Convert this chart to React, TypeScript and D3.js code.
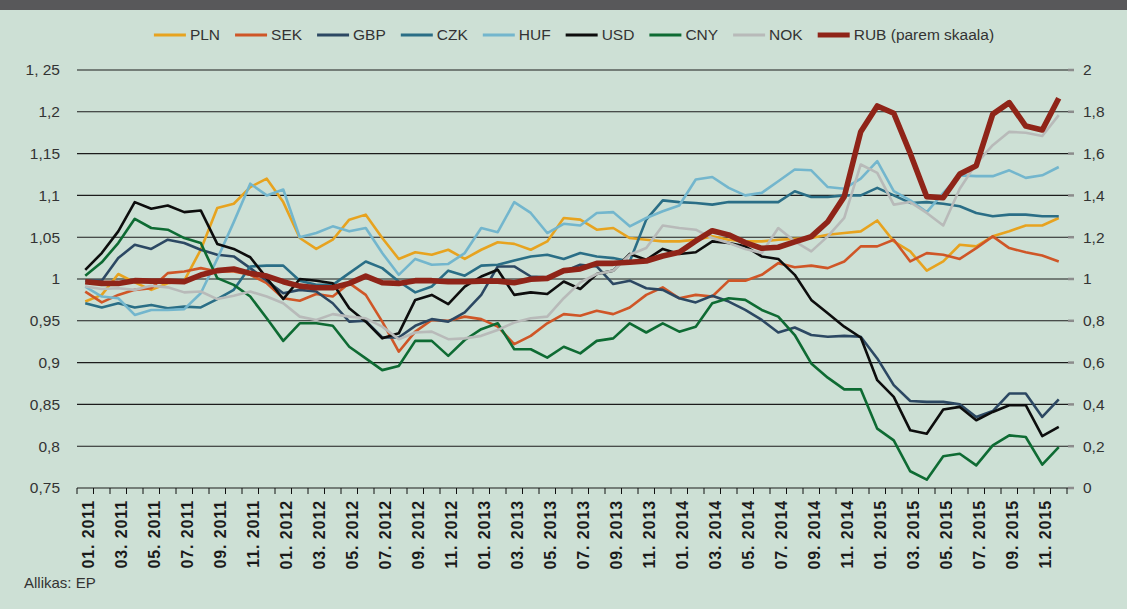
import React from "react";
import * as d3 from "d3";

// ---------- data ----------
const years = [2011, 2012, 2013, 2014, 2015];
const monthNums = ["01", "02", "03", "04", "05", "06", "07", "08", "09", "10", "11", "12"];
const months: string[] = years.flatMap((y) => monthNums.map((m) => `${m}. ${y}`));

const leftTickValues = [0.75, 0.8, 0.85, 0.9, 0.95, 1, 1.05, 1.1, 1.15, 1.2, 1.25];
const leftTickLabels = ["0,75", "0,8", "0,85", "0,9", "0,95", "1", "1,05", "1,1", "1,15", "1,2", "1, 25"];
const rightTickValues = [0, 0.2, 0.4, 0.6, 0.8, 1, 1.2, 1.4, 1.6, 1.8, 2];
const rightTickLabels = ["0", "0,2", "0,4", "0,6", "0,8", "1", "1,2", "1,4", "1,6", "1,8", "2"];

const PLN = [0.973, 0.981, 1.006, 0.996, 0.987, 0.995, 0.998, 1.035, 1.085, 1.09, 1.11, 1.12, 1.092, 1.049, 1.036, 1.047, 1.071, 1.077, 1.049, 1.024, 1.032, 1.029, 1.035, 1.024, 1.035, 1.044, 1.042, 1.035, 1.045, 1.073, 1.071, 1.059, 1.061, 1.049, 1.047, 1.045, 1.045, 1.047, 1.051, 1.047, 1.045, 1.045, 1.047, 1.048, 1.049, 1.053, 1.055, 1.057, 1.07, 1.045, 1.033, 1.01, 1.021, 1.041, 1.039, 1.051, 1.057, 1.064, 1.064, 1.073];
const SEK = [0.985, 0.972, 0.981, 0.987, 0.989, 1.007, 1.009, 1.013, 1.009, 1.009, 1.005, 0.995, 0.977, 0.974, 0.982, 0.979, 0.995, 0.981, 0.949, 0.913, 0.937, 0.951, 0.95, 0.955, 0.952, 0.943, 0.922, 0.932, 0.947, 0.958, 0.956, 0.962, 0.958, 0.966, 0.981, 0.99, 0.977, 0.981, 0.979, 0.998, 0.998, 1.005, 1.019, 1.014, 1.016, 1.013, 1.021, 1.039, 1.039, 1.047, 1.021, 1.031, 1.029, 1.024, 1.037, 1.051, 1.037, 1.032, 1.028, 1.021];
const GBP = [0.998, 0.998, 1.025, 1.041, 1.036, 1.047, 1.043, 1.035, 1.029, 1.027, 1.013, 0.998, 0.983, 0.987, 0.985, 0.971, 0.949, 0.95, 0.93, 0.93, 0.944, 0.952, 0.949, 0.96, 0.981, 1.015, 1.015, 1.003, 1.002, 1.009, 1.017, 1.015, 0.994, 0.998, 0.989, 0.987, 0.977, 0.972, 0.98, 0.973, 0.963, 0.951, 0.936, 0.942, 0.933, 0.931, 0.932, 0.931, 0.905, 0.873, 0.854, 0.853, 0.853, 0.85, 0.835, 0.842, 0.863, 0.863, 0.835, 0.856];
const CZK = [0.971, 0.966, 0.971, 0.966, 0.969, 0.965, 0.967, 0.966, 0.976, 0.987, 1.015, 1.016, 1.016, 0.998, 0.993, 0.993, 1.007, 1.021, 1.013, 0.997, 0.984, 0.991, 1.01, 1.004, 1.016, 1.017, 1.022, 1.027, 1.029, 1.024, 1.031, 1.027, 1.025, 1.021, 1.071, 1.094, 1.092, 1.091, 1.089, 1.092, 1.092, 1.092, 1.092, 1.105, 1.098, 1.098, 1.1, 1.1, 1.109, 1.1, 1.091, 1.092, 1.09, 1.087, 1.079, 1.075, 1.077, 1.077, 1.075, 1.075];
const HUF = [0.991, 0.979, 0.977, 0.957, 0.963, 0.963, 0.964, 0.983, 1.024, 1.068, 1.114, 1.1, 1.107, 1.05, 1.055, 1.063, 1.057, 1.061, 1.031, 1.005, 1.024, 1.017, 1.018, 1.031, 1.061, 1.056, 1.092, 1.079, 1.055, 1.066, 1.064, 1.079, 1.08, 1.063, 1.073, 1.081, 1.088, 1.119, 1.122, 1.109, 1.1, 1.103, 1.117, 1.131, 1.13, 1.11, 1.108, 1.12, 1.141, 1.105, 1.094, 1.08, 1.103, 1.124, 1.123, 1.123, 1.13, 1.121, 1.124, 1.134];
const USD = [1.011, 1.031, 1.057, 1.092, 1.084, 1.088, 1.08, 1.082, 1.042, 1.036, 1.026, 1.001, 0.976, 1.0, 0.998, 0.995, 0.965, 0.949, 0.929, 0.935, 0.975, 0.981, 0.97, 0.991, 1.003, 1.011, 0.981, 0.984, 0.982, 0.997, 0.988, 1.006, 1.01, 1.03, 1.023, 1.036, 1.03, 1.032, 1.045, 1.043, 1.039, 1.027, 1.024, 1.005, 0.975, 0.959, 0.943, 0.93, 0.879, 0.859, 0.819, 0.815, 0.844, 0.847, 0.831, 0.841, 0.849, 0.849, 0.812, 0.823];
const CNY = [1.004, 1.02, 1.043, 1.072, 1.061, 1.059, 1.049, 1.043, 1.001, 0.993, 0.979, 0.953, 0.926, 0.947, 0.947, 0.944, 0.919, 0.905, 0.891, 0.896, 0.926, 0.926, 0.908, 0.927, 0.94, 0.947, 0.916, 0.916, 0.906, 0.919, 0.911, 0.926, 0.929, 0.947, 0.936, 0.947, 0.937, 0.943, 0.971, 0.977, 0.975, 0.963, 0.955, 0.933, 0.899, 0.882, 0.868, 0.868, 0.821, 0.807, 0.77, 0.76, 0.788, 0.791, 0.777, 0.801, 0.813, 0.811, 0.778, 0.799];
const NOK = [0.991, 0.988, 0.989, 0.987, 0.992, 0.99, 0.984, 0.985, 0.976, 0.98, 0.985, 0.979, 0.971, 0.955, 0.951, 0.958, 0.955, 0.953, 0.943, 0.928, 0.936, 0.937, 0.928, 0.929, 0.932, 0.939, 0.948, 0.953, 0.955, 0.977, 0.996, 1.006, 1.01, 1.029, 1.037, 1.064, 1.061, 1.059, 1.049, 1.043, 1.036, 1.031, 1.061, 1.045, 1.033, 1.051, 1.073, 1.137, 1.127, 1.089, 1.092, 1.079, 1.064, 1.108, 1.138, 1.16, 1.176, 1.175, 1.171, 1.196];
const RUB = [0.987, 0.979, 0.979, 0.992, 0.99, 0.99, 0.987, 1.019, 1.04, 1.048, 1.027, 1.014, 0.987, 0.966, 0.958, 0.958, 0.979, 1.014, 0.982, 0.979, 0.992, 0.992, 0.987, 0.987, 0.99, 0.99, 0.982, 0.999, 1.003, 1.04, 1.048, 1.075, 1.075, 1.08, 1.086, 1.11, 1.128, 1.182, 1.231, 1.211, 1.174, 1.147, 1.152, 1.178, 1.203, 1.274, 1.394, 1.705, 1.828, 1.793, 1.601, 1.394, 1.389, 1.502, 1.542, 1.789, 1.844, 1.732, 1.713, 1.865];

const seriesNames = ["PLN", "SEK", "GBP", "CZK", "HUF", "USD", "CNY", "NOK", "RUB (parem skaala)"];
const seriesValues = [PLN, SEK, GBP, CZK, HUF, USD, CNY, NOK, RUB];
const seriesAxis = ["L", "L", "L", "L", "L", "L", "L", "L", "R"];

// ---------- styles ----------
const seriesColors = ["#e7a31f", "#cf5627", "#2c4863", "#2a6e86", "#73b6cd", "#0d0d0d", "#0e6b33", "#b8bab9", "#8f2418"];
const seriesWidths = [2.6, 2.6, 2.6, 2.6, 2.6, 2.6, 2.6, 2.6, 5.6];
const BG = "#cde0d5";
const FONT = "'Liberation Sans', Arial, Helvetica, sans-serif";

function measure(text: string, font: string): number {
  if (typeof document === "undefined") return text.length * 8;
  const c = document.createElement("canvas");
  const ctx = c.getContext("2d");
  if (!ctx) return text.length * 8;
  ctx.font = font;
  return ctx.measureText(text).width;
}

export default function App() {
  const W = 1127;
  const H = 609;
  const left = 77;
  const right = 1067;
  const top = 70;
  const bottom = 488;

  const x = d3.scaleBand<string>().domain(months).range([left, right]).padding(0);
  const bw = x.bandwidth();
  const cx = (i: number) => (x(months[i]) as number) + bw / 2;
  const yL = d3.scaleLinear().domain([0.75, 1.25]).range([bottom, top]);
  const yR = d3.scaleLinear().domain([0, 2]).range([bottom, top]);

  const paths = seriesValues.map((vals, s) => {
    const ys = seriesAxis[s] === "R" ? yR : yL;
    const gen = d3
      .line<number>()
      .x((_, i) => cx(i))
      .y((d) => ys(d));
    return gen(vals) || "";
  });

  // legend layout
  const legendFont = `15.5px ${FONT}`;
  const lineLen = 32;
  const gapText = 4;
  const gapItem = 15;
  const widths = seriesNames.map((n) => lineLen + gapText + measure(n, legendFont));
  const total = d3.sum(widths) + gapItem * (seriesNames.length - 1);
  let lx = 574 - total / 2;
  const legendItems = seriesNames.map((n, i) => {
    const item = { name: n, x: lx, i };
    lx += widths[i] + gapItem;
    return item;
  });
  const legendY = 35;

  const boundaries = d3.range(months.length + 1).map((i) =>
    i < months.length ? (x(months[i]) as number) : right
  );

  return (
    <div style={{ position: "absolute", left: 0, top: 0, width: W, height: H }}>
      <svg width={W} height={H} style={{ display: "block" }} fontFamily={FONT}>
        <rect x={0} y={0} width={W} height={H} fill={BG} />
        <rect x={0} y={0} width={W} height={10} fill="#58585a" />

        {/* gridlines */}
        {leftTickValues.map((v, i) => (
          <line key={"g" + i} x1={left} x2={right + 1} y1={yL(v)} y2={yL(v)} stroke="#1c1c1c" strokeWidth={1.1} />
        ))}

        {/* left tick labels */}
        {leftTickValues.map((v, i) => (
          <text key={"lt" + i} x={60} y={yL(v)} dy="0.35em" textAnchor="end" fontSize={15.5} fill="#333">
            {leftTickLabels[i]}
          </text>
        ))}

        {/* right ticks and labels */}
        {rightTickValues.map((v, i) => (
          <g key={"rt" + i}>
            <line x1={right + 1} x2={right + 7} y1={yR(v)} y2={yR(v)} stroke="#8c8c8c" strokeWidth={2.5} />
            <text x={1083} y={yR(v)} dy="0.35em" textAnchor="start" fontSize={15.5} fill="#333">
              {rightTickLabels[i]}
            </text>
          </g>
        ))}

        {/* x ticks */}
        {boundaries.map((bx, i) => (
          <line key={"xt" + i} x1={bx} x2={bx} y1={bottom} y2={bottom + 6} stroke="#111" strokeWidth={1} />
        ))}

        {/* x labels */}
        {months.map((m, i) =>
          i % 2 === 0 ? (
            <text
              key={"xl" + i}
              transform={`translate(${cx(i) + 2.5},${500}) rotate(-90)`}
              textAnchor="end"
              dy="0.36em"
              fontSize={16}
              fontWeight="bold"
              letterSpacing={0.9}
              fill="#1a1a1a"
            >
              {m}
            </text>
          ) : null
        )}

        {/* series */}
        {paths.map((p, s) => (
          <path
            key={"s" + s}
            d={p}
            fill="none"
            stroke={seriesColors[s]}
            strokeWidth={seriesWidths[s]}
            strokeLinejoin="round"
            strokeLinecap="butt"
          />
        ))}

        {/* legend */}
        {legendItems.map((it) => (
          <g key={"lg" + it.i}>
            <line
              x1={it.x}
              x2={it.x + lineLen}
              y1={legendY}
              y2={legendY}
              stroke={seriesColors[it.i]}
              strokeWidth={it.i === 8 ? 5 : 3}
            />
            <text x={it.x + lineLen + gapText} y={legendY} dy="0.35em" fontSize={15.5} fill="#333">
              {it.name}
            </text>
          </g>
        ))}

        <text x={24} y={583} dy="0.35em" fontSize={15} fill="#333">
          Allikas: EP
        </text>
      </svg>
    </div>
  );
}
